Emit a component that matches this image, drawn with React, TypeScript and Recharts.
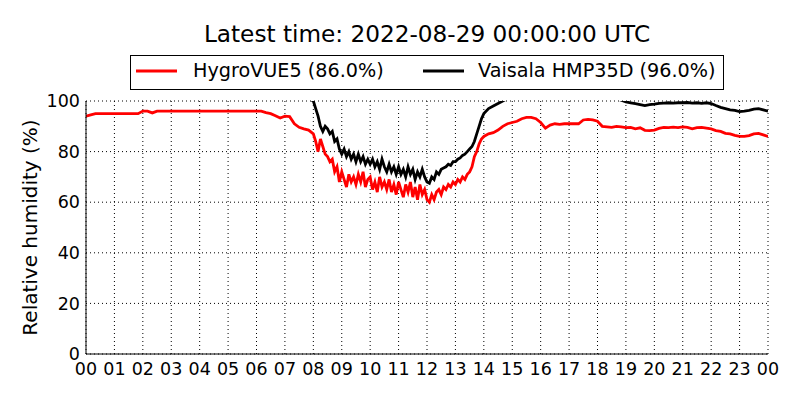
import React from 'react';
import { LineChart, Line, XAxis, YAxis, CartesianGrid, Legend } from 'recharts';

// Three sampling segments: 00:00-07:50 every 10 min, 08:00-13:55 every 5 min, 14:00-24:00 every 10 min
const segmentStarts = [0, 8, 14];
const segmentStepsMin = [10, 5, 10];

const hygroMorning = [
  94, 94.5, 95, 95, 95, 95,
  95, 95, 95, 95, 95, 95,
  96, 96, 95.3, 96, 96, 96,
  96, 96, 96, 96, 96, 96,
  96, 96, 96, 96, 96, 96,
  96, 96, 96, 96, 96, 96,
  96, 96, 95.4, 95, 94.2, 93.3,
  94, 93.8, 91, 89.6, 89, 88.5,
];
const hygroMidday = [
  87, 84, 80, 85, 82, 79, 78, 76, 77, 72, 74, 68,
  72, 69, 66, 71, 68, 70, 67, 71, 68, 72, 66, 69,
  70, 65, 68, 64, 70, 66, 68, 65, 69, 64, 67, 63,
  68, 65, 62, 67, 64, 68, 62, 66, 61, 67, 63, 65,
  61, 60, 63, 61, 64, 65, 63, 66, 65, 67, 66, 68,
  67, 69, 68, 70, 69, 71, 72, 74, 78, 80, 83, 85,
];
const hygroEvening = [
  86, 87, 87.5, 88.5, 90, 91,
  91.5, 92, 93, 93.5, 93.5, 93,
  91.5, 89.3, 90.5, 91, 90.8, 91,
  91, 91, 91, 92.5, 92.7, 92.5,
  92, 90, 89.8, 89.6, 90, 89.8,
  89.5, 89.6, 89, 89.4, 88.4, 88.3,
  88.5, 89.2, 89.6, 89.5, 89.7, 89.5,
  89.8, 89.6, 89, 89.5, 89.6, 89.3,
  89, 88.3, 88, 87.2, 87, 86.4,
  86, 86, 86.3, 87, 87.2, 86.6,
  86,
];

const vaisalaMorning = [
  101, 101, 101, 101, 101, 101,
  101, 101, 101, 101, 101, 101,
  101, 101, 101, 101, 101, 101,
  101, 101, 101, 101, 101, 101,
  101, 101, 101, 101, 101, 101,
  101, 101, 101, 101, 101, 101,
  101, 101, 101, 101, 101, 101,
  101, 101, 101, 101, 101, 101,
];
const vaisalaMidday = [
  100, 97, 94, 90, 88, 90, 89, 87, 88, 84, 85, 81,
  79, 81, 78, 80, 77, 79, 76, 79, 76, 78, 75, 77,
  75, 77, 74, 76, 73, 77, 74, 72, 75, 72, 74, 71,
  74, 71, 73, 70, 74, 71, 73, 69, 72, 70, 73, 70,
  68, 67.5, 70, 69, 72, 71, 73, 73.5, 74, 75, 74.5, 76,
  76, 77, 77.5, 78.5, 79, 80, 81, 82, 84, 87, 90, 93,
];
const vaisalaEvening = [
  95, 97, 98, 99, 100, 101,
  101, 101, 101, 101, 101, 101,
  101, 101, 101, 101, 101, 101,
  101, 101, 101, 101, 101, 101,
  101, 101, 101, 101, 101, 100.3,
  99.6, 99.3, 99, 98.6, 98.2, 98.6,
  98.8, 99.1, 99.2, 99.3, 99.2, 99.3,
  99.3, 99.4, 99.2, 99.3, 99.1, 99.3,
  99, 98.2, 97.5, 97, 96.5, 96.3,
  95.8, 96, 96.3, 96.8, 97, 96.5,
  96,
];

const xTicks = [0, 1, 2, 3, 4, 5, 6, 7, 8, 9, 10, 11, 12, 13, 14, 15, 16, 17, 18, 19, 20, 21, 22, 23, 24];
const xTickLabels = ['00', '01', '02', '03', '04', '05', '06', '07', '08', '09', '10', '11', '12', '13', '14', '15', '16', '17', '18', '19', '20', '21', '22', '23', '00'];
const yTicks = [0, 20, 40, 60, 80, 100];
const seriesNames = ['HygroVUE5 (86.0%)', 'Vaisala HMP35D (96.0%)'];
const seriesColors = ['#ff0000', '#000000'];
const titleText = 'Latest time: 2022-08-29 00:00:00 UTC';
const yLabelText = 'Relative humidity (%)';

const hygroSegments = [hygroMorning, hygroMidday, hygroEvening];
const vaisalaSegments = [vaisalaMorning, vaisalaMidday, vaisalaEvening];

const data: { t: number; hygro: number; vaisala: number }[] = [];
hygroSegments.forEach((seg, s) => {
  seg.forEach((v, i) => {
    data.push({
      t: segmentStarts[s] + (i * segmentStepsMin[s]) / 60,
      hygro: v,
      vaisala: vaisalaSegments[s][i],
    });
  });
});

const FONT = 'DejaVu Sans, Bitstream Vera Sans, sans-serif';

const renderLegend = (props: any) => {
  const payload = props.payload || [];
  const lineX = [6, 293];
  const textX = [63, 348];
  return (
    <svg width={594} height={36} style={{ display: 'block' }}>
      <rect x={0.5} y={0.5} width={593} height={34} fill="#fff" stroke="#000" strokeWidth={1} />
      {payload.map((p: any, i: number) => (
        <g key={i}>
          <line x1={lineX[i]} x2={lineX[i] + 41} y1={16} y2={16} stroke={p.color} strokeWidth={2.8} />
          <text x={textX[i]} y={22} fontFamily={FONT} fontSize={19.2} fill="#000">
            {p.value}
          </text>
        </g>
      ))}
    </svg>
  );
};

const YLabel = (props: any) => {
  const vb = props.viewBox || { y: 101, height: 253 };
  const cy = vb.y + vb.height / 2;
  return (
    <text
      transform={`translate(36.5, ${cy}) rotate(-90)`}
      textAnchor="middle"
      fontFamily={FONT}
      fontSize={20}
      fill="#000"
    >
      {yLabelText}
    </text>
  );
};

export default function App() {
  return (
    <div style={{ position: 'absolute', left: 0, top: 0, width: 800, height: 400, background: '#fff' }}>
      <svg width={800} height={60} style={{ position: 'absolute', left: 0, top: 0 }}>
        <text x={427} y={41.5} textAnchor="middle" fontFamily={FONT} fontSize={23.2} fill="#000">
          {titleText}
        </text>
      </svg>
      <LineChart
        width={800}
        height={400}
        data={data}
        margin={{ top: 101, right: 32, bottom: 0, left: 0 }}
        style={{ position: 'absolute', left: 0, top: 0 }}
      >
        <CartesianGrid stroke="#000" strokeDasharray="1 3" strokeWidth={1} />
        <XAxis
          dataKey="t"
          type="number"
          domain={[0, 24]}
          ticks={xTicks}
          tickFormatter={(v: number) => xTickLabels[xTicks.indexOf(v)]}
          interval={0}
          height={46}
          tickSize={0}
          tickMargin={8.6}
          tickLine={false}
          axisLine={{ stroke: '#000', strokeWidth: 1 }}
          tick={{ fill: '#000', fontSize: 17.5, fontFamily: FONT }}
          allowDataOverflow
        />
        <XAxis
          xAxisId="top"
          orientation="top"
          dataKey="t"
          type="number"
          domain={[0, 24]}
          height={0}
          tick={false}
          tickLine={false}
          axisLine={{ stroke: '#000', strokeWidth: 1 }}
        />
        <YAxis
          type="number"
          domain={[0, 100]}
          ticks={yTicks}
          interval={0}
          width={86}
          tickSize={0}
          tickMargin={6}
          tickLine={false}
          axisLine={{ stroke: '#000', strokeWidth: 1 }}
          tick={{ fill: '#000', fontSize: 17.5, fontFamily: FONT }}
          allowDataOverflow
          label={<YLabel />}
        />
        <YAxis
          yAxisId="right"
          orientation="right"
          type="number"
          domain={[0, 100]}
          width={0}
          tick={false}
          tickLine={false}
          axisLine={{ stroke: '#000', strokeWidth: 1 }}
        />
        <Legend
          layout="horizontal"
          verticalAlign="middle"
          align="center"
          content={renderLegend}
          wrapperStyle={{ position: 'absolute', top: 55, left: 130, width: 594, height: 36 }}
        />
        <Line
          type="linear"
          dataKey="hygro"
          name={seriesNames[0]}
          stroke={seriesColors[0]}
          strokeWidth={2.8}
          dot={false}
          isAnimationActive={false}
        />
        <Line
          type="linear"
          dataKey="vaisala"
          name={seriesNames[1]}
          stroke={seriesColors[1]}
          strokeWidth={2.8}
          dot={false}
          isAnimationActive={false}
        />
      </LineChart>
    </div>
  );
}
